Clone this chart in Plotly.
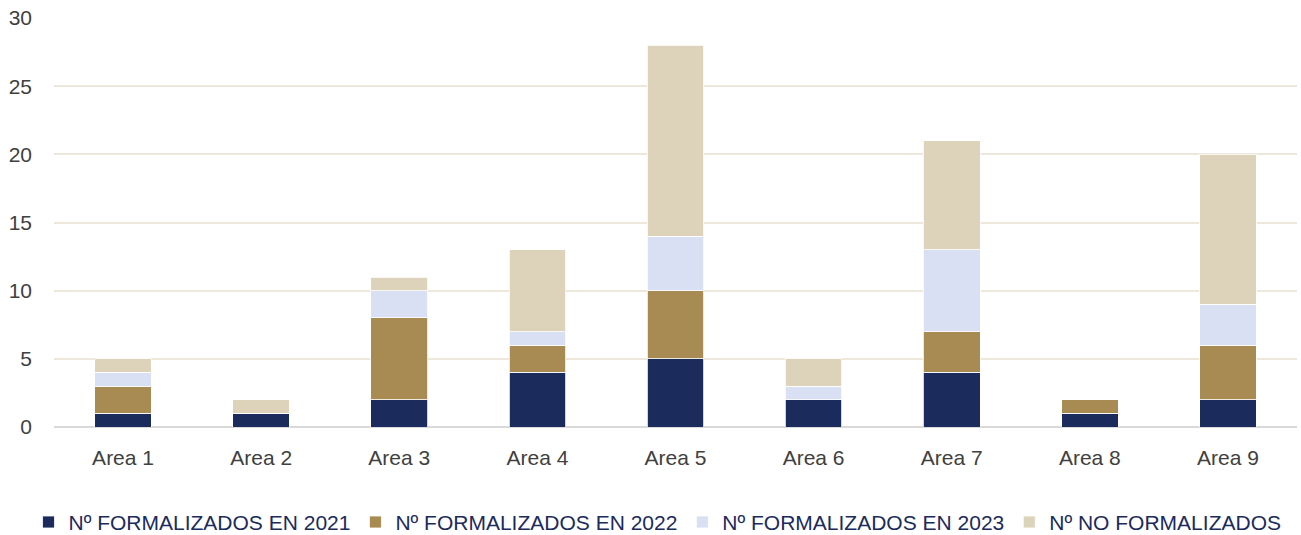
import plotly.graph_objects as go

areas = ["Area 1", "Area 2", "Area 3", "Area 4", "Area 5", "Area 6", "Area 7", "Area 8", "Area 9"]
f2021 = [1, 1, 2, 4, 5, 2, 4, 1, 2]
f2022 = [2, 0, 6, 2, 5, 0, 3, 1, 4]
f2023 = [1, 0, 2, 1, 4, 1, 6, 0, 3]
no_form = [1, 1, 1, 6, 14, 2, 8, 0, 11]

names = ["Nº FORMALIZADOS EN 2021", "Nº FORMALIZADOS EN 2022",
         "Nº FORMALIZADOS EN 2023", "Nº NO FORMALIZADOS"]
colors = ["#1A2B5C", "#A88B52", "#DAE0F3", "#DDD3BA"]
series = [f2021, f2022, f2023, no_form]

fig = go.Figure()
for name, vals, col in zip(names, series, colors):
    fig.add_trace(go.Bar(x=areas, y=vals, name=name,
                         marker=dict(color=col, line=dict(color="white", width=0.8))))

fig.update_layout(
    barmode="stack",
    bargap=0.59,
    width=1301, height=535,
    margin=dict(l=54, r=4, t=18, b=108, autoexpand=False),
    paper_bgcolor="white", plot_bgcolor="white",
    font=dict(family="Liberation Sans, Arial, sans-serif", size=21, color="#404040"),
    xaxis=dict(showgrid=False, showline=False, ticks="", automargin=False,
               ticklabelstandoff=16, tickfont=dict(size=21, color="#404040")),
    yaxis=dict(range=[0, 30], dtick=5, showgrid=True, gridcolor="#EDE7DC", gridwidth=1.5,
               zeroline=True, zerolinecolor="#D9D9D9", zerolinewidth=2, automargin=False,
               ticks="", ticklabelstandoff=21, tickfont=dict(size=21, color="#404040")),
    legend=dict(orientation="h", x=-0.0205, xanchor="left", y=-0.183, yanchor="top",
                font=dict(size=21, color="#1A2B5C"), traceorder="normal",
                itemwidth=30),
    showlegend=True,
)

fig.write_html("out.html", config={"displayModeBar": False},
               post_script="document.body.style.margin='0';")
